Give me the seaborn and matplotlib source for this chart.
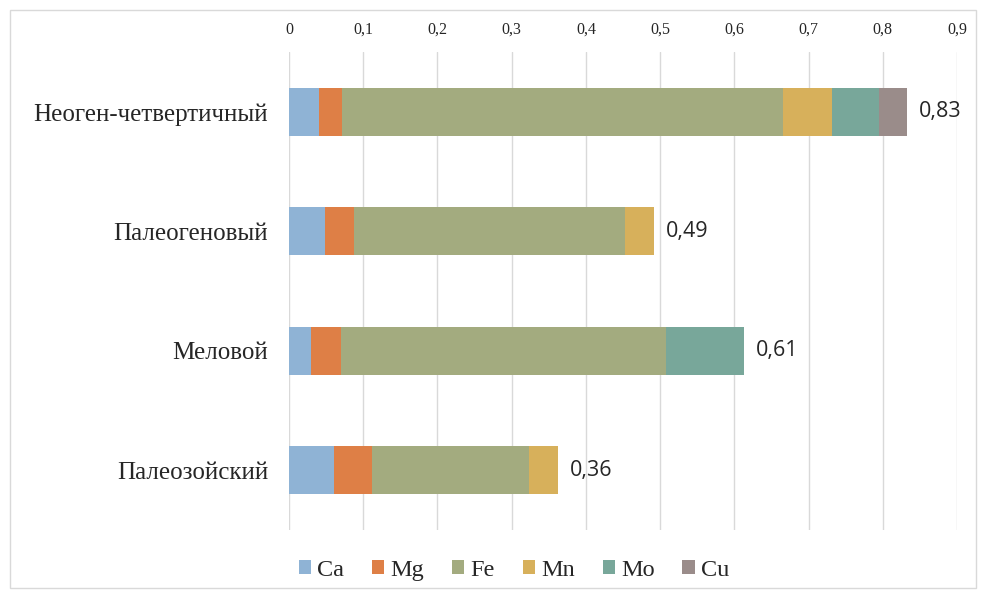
import numpy as np
import pandas as pd
import matplotlib.pyplot as plt
import seaborn as sns

# data
periods = ['Неоген-четвертичный', 'Палеогеновый', 'Меловой', 'Палеозойский']
elements = ['Ca', 'Mg', 'Fe', 'Mn', 'Mo', 'Cu']
ca = [0.040, 0.048, 0.029, 0.061]
mg = [0.031, 0.039, 0.041, 0.051]
fe = [0.595, 0.366, 0.438, 0.211]
mn = [0.066, 0.039, 0.000, 0.039]
mo = [0.063, 0.000, 0.105, 0.000]
cu = [0.038, 0.000, 0.000, 0.000]
totals = [0.83, 0.49, 0.61, 0.36]
tick_values = [0, 0.1, 0.2, 0.3, 0.4, 0.5, 0.6, 0.7, 0.8, 0.9]

colors = ['#8FB3D5', '#DE7F46', '#A3AB7F', '#D7B05B', '#78A79A', '#9A8C8A']

df = pd.DataFrame({'Ca': ca, 'Mg': mg, 'Fe': fe, 'Mn': mn, 'Mo': mo, 'Cu': cu},
                  index=periods)
cum = df.cumsum(axis=1)

sns.set_style('white')
fig = plt.figure(figsize=(9.81, 5.91), dpi=100)
ax = fig.add_axes([0.2946, 0.103, 0.681, 0.809])

# stacked bars: draw cumulative sums from the outermost segment inwards
for el, col in reversed(list(zip(elements, colors))):
    sns.barplot(x=cum[el].values, y=periods, orient='h', color=col,
                width=0.4, saturation=1, ax=ax, label=el, zorder=2,
                linewidth=0, edgecolor='none')

ax.legend_.remove() if ax.legend_ else None

ax.set_xlim(0, 0.9)
ax.set_ylim(3.5, -0.5)
ax.xaxis.tick_top()
ax.set_xticks(tick_values)
ax.set_xticklabels([('%g' % v).replace('.', ',') for v in tick_values],
                   family='Liberation Serif', fontsize=11.5)
ax.tick_params(axis='x', length=0, pad=10)
ax.tick_params(axis='y', length=0, pad=15)
for lbl in ax.get_yticklabels():
    lbl.set_family('Liberation Serif')
    lbl.set_fontsize(18)
ax.grid(axis='x', color='#D9D9D9', lw=1, zorder=0)
ax.set_axisbelow(True)
for s in ax.spines.values():
    s.set_visible(False)
ax.set_xlabel('')
ax.set_ylabel('')

for i, t in enumerate(totals):
    ax.text(cum['Cu'].iloc[i] + 0.016, i, ('%.2f' % t).replace('.', ','),
            va='center', ha='left', fontsize=15.5, family='Open Sans')

handles, labels = ax.get_legend_handles_labels()
order = [labels.index(e) for e in elements]
fig.legend([handles[k] for k in order], elements, loc='center',
           bbox_to_anchor=(0.524, 0.035), ncol=6, frameon=False,
           prop={'family': 'Liberation Serif', 'size': 17.5},
           handlelength=0.5, handleheight=0.5, handletextpad=0.25,
           columnspacing=1.15)

fig.patches.append(plt.Rectangle((0.01, 0.005), 0.985, 0.978, transform=fig.transFigure,
                                 fill=False, edgecolor='#D9D9D9', lw=1))

plt.savefig('out.png', dpi=100)
